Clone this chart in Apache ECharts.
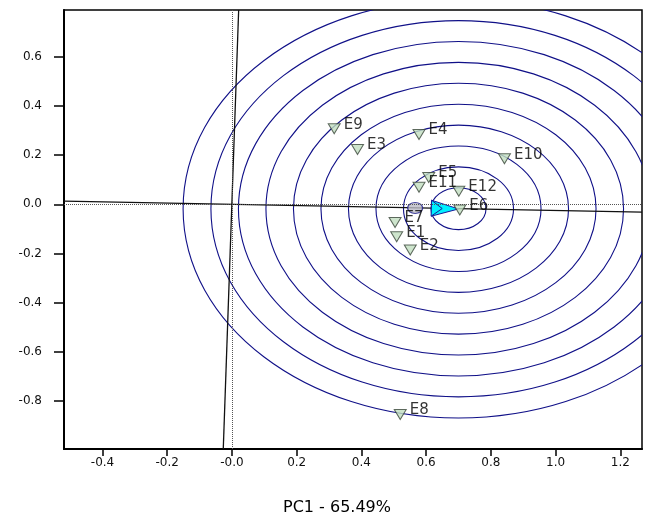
<!DOCTYPE html>
<html><head><meta charset="utf-8">
<script src="https://cdn.jsdelivr.net/npm/echarts@6/dist/echarts.min.js"></script>
<style>html,body{margin:0;padding:0;background:#fff}#c{width:647px;height:517px}</style>
</head><body><div id="c"></div>
<script>
// ---- data ----
const envNames = ['E1','E2','E3','E4','E5','E6','E7','E8','E9','E10','E11','E12'];
const envPC1   = [0.509, 0.551, 0.388, 0.578, 0.608, 0.704, 0.504, 0.520, 0.316, 0.842, 0.578, 0.701];
const envPC2   = [-0.132, -0.186, 0.223, 0.284, 0.109, -0.023, -0.074, -0.855, 0.307, 0.185, 0.069, 0.053];

const xTickValues = [-0.4, -0.2, 0, 0.2, 0.4, 0.6, 0.8, 1.0, 1.2];
const xTickLabels = ['-0.4', '-0.2', '-0.0', '0.2', '0.4', '0.6', '0.8', '1.0', '1.2'];
const yTickValues = [-0.8, -0.6, -0.4, -0.2, 0, 0.2, 0.4, 0.6];
const yTickLabels = ['-0.8', '-0.6', '-0.4', '-0.2', '0.0', '0.2', '0.4', '0.6'];

const idealCenter = [0.700, -0.018];
const ringRadii = [0.085, 0.170, 0.255, 0.340, 0.425, 0.510, 0.595, 0.680, 0.765, 0.851];
const meanEnv = [0.566, -0.015];
const arrowTail = [0.616, -0.016];
const arrowTip  = [0.700, -0.019];
const aecAbscissa = [[-0.519, 0.013], [1.267, -0.032]];
const aecOrdinate = [[0.0207, 0.79], [-0.0269, -0.995]];
const xTitle = 'PC1 - 65.49%';

// ---- chart ----
const chart = echarts.init(document.getElementById('c'), null, {renderer: 'canvas'});
const FONT = 'DejaVu Sans';
function lab(values, labels) {
  return function (v) {
    for (let i = 0; i < values.length; i++) if (Math.abs(values[i] - v) < 1e-6) return labels[i];
    return '';
  };
}
function clipGroup(params, children) {
  const cs = params.coordSys;
  return {type: 'group', children: children,
    clipPath: {type: 'rect', shape: {x: cs.x, y: cs.y, width: cs.width, height: cs.height}}};
}

const option = {
  backgroundColor: '#fff',
  animation: false,
  grid: {left: 64, right: 5, top: 10, bottom: 68, show: true, borderColor: '#000', borderWidth: 1.5, backgroundColor: 'transparent'},
  xAxis: {
    type: 'value', min: -0.519, max: 1.267,
    splitLine: {show: false},
    axisLine: {show: true, onZero: false, lineStyle: {color: '#000', width: 2}},
    axisTick: {show: true, inside: false, length: 7, lineStyle: {color: '#000', width: 1.5}, customValues: xTickValues},
    axisLabel: {show: true, margin: 8, color: '#111', fontSize: 12, fontFamily: FONT,
      customValues: xTickValues, formatter: lab(xTickValues, xTickLabels), showMinLabel: true, showMaxLabel: true}
  },
  yAxis: {
    type: 'value', min: -0.995, max: 0.79,
    splitLine: {show: false},
    axisLine: {show: true, onZero: false, lineStyle: {color: '#000', width: 2}},
    axisTick: {show: true, inside: false, length: 10, lineStyle: {color: '#000', width: 1.5}, customValues: yTickValues},
    axisLabel: {show: true, margin: 22, color: '#111', fontSize: 12, fontFamily: FONT,
      customValues: yTickValues, formatter: lab(yTickValues, yTickLabels)}
  },
  graphic: [{
    type: 'text', x: 337, y: 508, silent: true,
    style: {text: xTitle, fill: '#000', font: '16px "DejaVu Sans"', align: 'center', verticalAlign: 'middle'}
  }],
  series: [
    { // concentric rings around the ideal point
      type: 'custom', z: 1, silent: true, clip: true,
      data: ringRadii.map(r => [idealCenter[0], idealCenter[1], r]),
      renderItem: function (params, api) {
        const c = api.coord([api.value(0), api.value(1)]);
        const s = api.size([api.value(2), api.value(2)]);
        return clipGroup(params, [{
          type: 'ellipse', shape: {cx: c[0], cy: c[1], rx: s[0], ry: s[1]},
          style: {fill: null, stroke: '#101088', lineWidth: 1.1}
        }]);
      }
    },
    { // dotted reference axes + rotated abscissa
      type: 'line', z: 2, silent: true, data: aecAbscissa, symbol: 'none',
      lineStyle: {color: '#111', width: 1.3},
      markLine: {silent: true, symbol: ['none', 'none'], label: {show: false},
        lineStyle: {type: [1, 1], color: '#555', width: 1},
        data: [{xAxis: 0}, {yAxis: 0}]}
    },
    {
      type: 'line', z: 2, silent: true, data: aecOrdinate, symbol: 'none',
      lineStyle: {color: '#111', width: 1.3}
    },
    { // average environment marker
      type: 'scatter', z: 3, silent: true, data: [meanEnv],
      symbol: 'circle', symbolSize: [15, 11],
      itemStyle: {color: '#bcbcc6', borderColor: '#1a1a8a', borderWidth: 1.2}
    },
    { // arrow head toward ideal point
      type: 'custom', z: 4, silent: true,
      data: [[arrowTail[0], arrowTail[1], arrowTip[0], arrowTip[1]]],
      renderItem: function (params, api) {
        const t = api.coord([api.value(0), api.value(1)]);
        const h = api.coord([api.value(2), api.value(3)]);
        const dx = h[0] - t[0], dy = h[1] - t[1];
        const L = Math.sqrt(dx * dx + dy * dy);
        const ux = dx / L, uy = dy / L, nx = -uy, ny = ux, w = 8;
        const bt = [t[0] + nx * w, t[1] + ny * w];
        const bb = [t[0] - nx * w, t[1] - ny * w];
        const notch = [t[0] + ux * L * 0.4, t[1] + uy * L * 0.4];
        return {type: 'group', children: [
          {type: 'polygon', shape: {points: [h, bt, bb]},
           style: {fill: '#00f0ff', stroke: '#1a1a9a', lineWidth: 1}},
          {type: 'polyline', shape: {points: [bt, notch, bb]},
           style: {fill: null, stroke: '#1a1a9a', lineWidth: 1}}
        ]};
      }
    },
    { // environments
      type: 'scatter', z: 5, silent: true,
      data: envNames.map((n, i) => ({name: n, value: [envPC1[i], envPC2[i]]})),
      symbol: 'triangle', symbolRotate: 180, symbolSize: [12, 10],
      itemStyle: {color: '#c2dfc0', borderColor: '#3a463a', borderWidth: 1},
      label: {show: true, position: 'right', distance: 3, offset: [0, -4],
        formatter: '{b}', color: '#000', fontSize: 15, fontFamily: FONT}
    }
  ]
};
chart.setOption(option);
</script>
</body></html>
